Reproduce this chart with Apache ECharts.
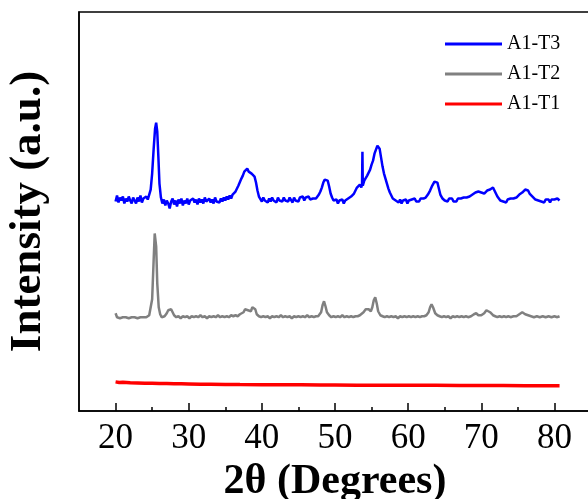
<!DOCTYPE html>
<html>
<head>
<meta charset="utf-8">
<script src="https://cdn.jsdelivr.net/npm/echarts@6/dist/echarts.min.js"></script>
<style>
  html, body { margin: 0; padding: 0; background: #fff; }
  #chart { width: 588px; height: 499px; }
</style>
</head>
<body>
<div id="chart"></div>
<script>
// XRD patterns, intensity in arbitrary units (offset stacked)
var seriesNames = ['A1-T3', 'A1-T2', 'A1-T1'];
var majorTicks = [20, 30, 40, 50, 60, 70, 80];
var minorTicks = [25, 35, 45, 55, 65, 75];

var t3 = [
  [20.0,210],[20.2,216],[20.4,209],[20.6,214],[20.8,211],[21.0,215],[21.2,208],[21.4,213],[21.6,210],[21.8,215],
  [22.0,211],[22.2,208],[22.4,214],[22.6,212],[22.8,208],[23.0,214],[23.2,210],[23.4,216],[23.6,209],[23.8,213],
  [24.0,211],[24.2,215],[24.4,212],[24.6,217],[24.8,222],[25.0,238],[25.2,262],[25.4,283],[25.55,289],[25.7,280],
  [25.85,255],[26.0,228],[26.2,214],[26.4,208],[26.6,212],[26.8,206],[27.0,211],[27.2,208],[27.4,203],[27.6,210],
  [27.8,213],[28.0,207],[28.2,211],[28.4,205],[28.6,212],[28.8,208],[29.0,213],[29.2,206],[29.4,211],[29.6,208],
  [29.8,213],[30.0,207],[30.2,211],[30.4,209],[30.6,213],[30.8,209],[31.0,212],[31.2,207],[31.4,213],[31.6,209],
  [31.8,212],[32.0,208],[32.2,214],[32.4,210],[32.6,208],[32.8,213],[33.0,209],[33.2,212],[33.4,208],[33.6,214],
  [33.8,210],[34.0,212],[34.2,209],[34.4,213],[34.6,210],[34.8,214],[35.0,211],[35.2,215],[35.4,212],[35.6,216],
  [35.8,213],[36.0,217],[36.2,216],[36.4,220],[36.6,221],[36.8,226],[37.0,228],[37.2,233],[37.4,236],[37.6,240],
  [37.8,241],[38.0,243],[38.2,240],[38.4,242],[38.6,238],[38.8,240],[39.0,235],[39.2,229],[39.4,221],[39.6,215],
  [39.8,213],[40.0,210],[40.2,214],[40.4,211],[40.6,213],[40.8,209],[41.0,213],[41.2,210],[41.4,214],[41.6,211],
  [41.8,213],[42.0,209],[42.2,214],[42.4,211],[42.6,213],[42.8,210],[43.0,214],[43.2,211],[43.4,213],[43.6,210],
  [43.8,214],[44.0,212],[44.2,209],[44.4,214],[44.6,211],[44.8,213],[45.0,210],[45.2,214],[45.4,212],[45.6,215],
  [45.8,211],[46.0,214],[46.2,212],[46.4,215],[46.6,212],[46.8,214],[47.0,213],[47.2,215],[47.4,213],[47.6,215],
  [47.8,217],[48.0,220],[48.2,224],[48.4,229],[48.6,232],[48.8,234],[49.0,231],[49.2,225],[49.4,218],[49.6,214],
  [49.8,211],[50.0,209],[50.2,212],[50.4,208],[50.6,211],[50.8,209],[51.0,212],[51.2,208],[51.4,211],[51.6,210],
  [51.8,213],[52.0,212],[52.2,215],[52.4,214],[52.6,218],[52.8,220],[53.0,224],[53.2,222],[53.4,227],[53.6,224],
  [53.7,228],[53.75,260],[53.8,226],[54.0,231],[54.2,229],[54.4,236],[54.6,238],[54.8,242],[55.0,247],[55.2,251],
  [55.4,258],[55.6,262],[55.8,266],[55.95,267],[56.1,263],[56.3,254],[56.5,245],[56.7,238],[56.9,233],[57.1,228],
  [57.3,223],[57.5,219],[57.7,217],[57.9,213],[58.1,214],[58.3,211],[58.5,212],[58.7,209],[58.9,212],[59.1,208],
  [59.3,211],[59.5,209],[59.7,212],[59.9,208],[60.1,211],[60.3,209],[60.5,212],[60.7,210],[60.9,213],[61.1,210],
  [61.3,212],[61.5,210],[61.7,213],[61.9,211],[62.1,213],[62.4,214],[62.7,217],[63.0,221],[63.3,226],[63.6,230],
  [63.8,231],[64.0,229],[64.2,223],[64.4,217],[64.7,213],[65.0,211],[65.2,213],[65.4,210],[65.6,213],[65.8,211],
  [66.0,213],[66.2,210],[66.4,212],[66.6,210],[66.8,213],[67.0,211],[67.2,213],[67.4,211],[67.6,214],[67.8,212],
  [68.0,214],[68.2,213],[68.4,215],[68.6,214],[68.8,217],[69.0,216],[69.2,219],[69.4,218],[69.6,220],[69.8,221],
  [70.0,219],[70.2,220],[70.4,218],[70.6,220],[70.8,221],[71.0,220],[71.2,222],[71.4,222],[71.6,224],[71.8,221],
  [72.0,218],[72.2,215],[72.4,214],[72.6,211],[72.8,213],[73.0,210],[73.2,212],[73.4,209],[73.6,212],[73.8,210],
  [74.0,213],[74.2,211],[74.4,213],[74.6,212],[74.8,214],[75.0,215],[75.2,217],[75.4,216],[75.6,219],[75.8,220],
  [76.0,222],[76.2,220],[76.4,221],[76.6,218],[76.8,217],[77.0,215],[77.2,214],[77.4,212],[77.6,214],[77.8,211],
  [78.0,213],[78.2,210],[78.4,212],[78.6,209],[78.8,212],[79.0,210],[79.2,212],[79.4,209],[79.6,212],[79.8,210],
  [80.0,212],[80.2,210],[80.4,213],[80.7,211]
];

var t2 = [
  [20.0,98],[20.2,94],[20.4,95],[20.6,93],[20.8,95],[21.0,94],[21.2,96],[21.4,94],[21.6,95],[21.8,93],
  [22.0,95],[22.2,94],[22.4,96],[22.6,94],[22.8,95],[23.0,93],[23.2,95],[23.4,94],[23.6,96],[23.8,94],
  [24.0,95],[24.2,94],[24.4,95],[24.6,96],[24.8,98],[25.0,112],[25.2,150],[25.35,178],[25.45,180],[25.55,165],
  [25.7,128],[25.9,104],[26.1,97],[26.3,94],[26.5,93],[26.7,95],[27.0,98],[27.2,101],[27.4,103],[27.6,102],
  [27.8,99],[28.0,96],[28.3,94],[28.6,95],[28.9,93],[29.2,95],[29.5,94],[29.8,95],[30.1,93],[30.4,95],
  [30.7,94],[31.0,95],[31.3,94],[31.6,96],[31.9,94],[32.2,95],[32.5,93],[32.8,95],[33.1,94],[33.4,95],
  [33.7,94],[34.0,96],[34.3,94],[34.6,95],[34.9,94],[35.2,95],[35.5,94],[35.8,96],[36.1,95],[36.4,96],
  [36.7,95],[37.0,97],[37.2,96],[37.5,99],[37.7,102],[37.9,104],[38.1,101],[38.3,99],[38.5,100],[38.7,104],
  [38.9,105],[39.1,102],[39.3,97],[39.6,95],[39.9,94],[40.2,95],[40.5,94],[40.8,95],[41.1,93],[41.4,95],
  [41.7,94],[42.0,95],[42.3,94],[42.6,96],[42.9,94],[43.2,95],[43.5,94],[43.8,95],[44.1,93],[44.4,95],
  [44.7,94],[45.0,95],[45.3,94],[45.6,95],[45.9,94],[46.2,96],[46.5,94],[46.8,95],[47.1,94],[47.4,95],
  [47.7,95],[47.9,96],[48.1,99],[48.3,106],[48.5,110],[48.7,105],[48.9,99],[49.2,96],[49.5,94],[49.8,95],
  [50.1,94],[50.4,95],[50.7,94],[51.0,96],[51.3,94],[51.6,95],[51.9,94],[52.2,95],[52.5,94],[52.8,95],
  [53.1,95],[53.4,96],[53.6,96],[53.9,99],[54.2,102],[54.4,104],[54.6,102],[54.9,100],[55.1,104],[55.3,111],
  [55.5,114],[55.7,108],[55.9,100],[56.2,96],[56.5,95],[56.8,94],[57.1,95],[57.4,94],[57.7,95],[58.0,94],
  [58.3,95],[58.6,93],[58.9,95],[59.2,94],[59.5,95],[59.8,94],[60.1,95],[60.4,94],[60.7,95],[61.0,94],
  [61.3,95],[61.6,94],[61.9,95],[62.2,95],[62.5,96],[62.8,99],[63.0,104],[63.2,107],[63.4,104],[63.7,98],
  [64.0,96],[64.3,95],[64.6,94],[64.9,95],[65.2,94],[65.5,95],[65.8,93],[66.1,95],[66.4,94],[66.7,95],
  [67.0,94],[67.3,95],[67.6,94],[67.9,95],[68.2,94],[68.6,95],[69.0,97],[69.3,98],[69.6,96],[70.0,96],
  [70.4,98],[70.7,101],[70.9,102],[71.2,99],[71.6,96],[71.9,95],[72.2,94],[72.5,95],[72.8,94],[73.1,95],
  [73.4,94],[73.7,95],[74.0,94],[74.4,95],[74.8,95],[75.2,97],[75.6,99],[76.0,97],[76.4,96],[76.8,95],
  [77.2,94],[77.6,95],[78.0,94],[78.4,95],[78.8,94],[79.2,95],[79.6,94],[80.0,95],[80.4,94],[80.7,95]
];

var t1 = [
  [20.0,29.2],[20.5,28.6],[21,28.9],[22,28.3],[23,28.1],[24,27.9],[25,27.8],[26,27.5],[27,27.6],[28,27.3],
  [29,27.2],[30,27.1],[31.6,26.9],[33,26.8],[35,26.6],[37,26.5],[40,26.4],[43,26.2],[45.4,26.3],[48,26.0],
  [50,26.1],[53,25.9],[56,25.9],[60,25.7],[63.8,25.7],[67,25.6],[70,25.5],[73,25.5],[76,25.4],[78,25.4],
  [80.7,25.3]
];

var chart = echarts.init(document.getElementById('chart'));
var serif = 'Liberation Serif, Times New Roman, serif';

var option = {
  animation: false,
  grid: {
    left: 79, right: -3, top: 12, bottom: 88,
    outerBoundsMode: 'none',
    containLabel: false,
    show: true,
    borderColor: '#000',
    borderWidth: 1.5
  },
  legend: {
    data: seriesNames,
    orient: 'vertical',
    left: 440,
    top: 29,
    itemWidth: 57,
    itemHeight: 3,
    itemGap: 10,
    icon: 'rect',
    textStyle: { fontFamily: serif, fontSize: 20, color: '#000', lineHeight: 20 }
  },
  xAxis: [{
    type: 'value',
    min: 15,
    max: 85,
    name: '2\u03b8 (Degrees)',
    nameLocation: 'middle',
    nameGap: 46,
    nameTextStyle: { fontFamily: serif, fontSize: 42, fontWeight: 'bold', color: '#000' },
    axisLine: { lineStyle: { color: '#000', width: 1.5 } },
    axisTick: { inside: true, length: 8, lineStyle: { color: '#000', width: 1.5 }, customValues: majorTicks },
    axisLabel: { customValues: majorTicks, margin: 10, fontFamily: serif, fontSize: 35, color: '#000' },
    splitLine: { show: false }
  }, {
    type: 'value',
    min: 15,
    max: 85,
    position: 'bottom',
    axisLine: { show: false },
    axisTick: { inside: true, length: 4, lineStyle: { color: '#000', width: 1.5 }, customValues: minorTicks },
    axisLabel: { show: false },
    splitLine: { show: false }
  }],
  yAxis: {
    type: 'value',
    min: 0,
    max: 400,
    name: 'Intensity (a.u.)',
    nameLocation: 'middle',
    nameGap: 28,
    nameTextStyle: { fontFamily: serif, fontSize: 45, fontWeight: 'bold', color: '#000' },
    axisLine: { show: true, lineStyle: { color: '#000', width: 1.5 } },
    axisTick: { show: false },
    axisLabel: { show: false },
    splitLine: { show: false }
  },
  series: [
    { name: 'A1-T3', type: 'line', data: t3, symbol: 'none', color: '#0000ff', lineStyle: { width: 2.5 } },
    { name: 'A1-T2', type: 'line', data: t2, symbol: 'none', color: '#808080', lineStyle: { width: 2.5 } },
    { name: 'A1-T1', type: 'line', data: t1, symbol: 'none', color: '#ff0000', lineStyle: { width: 3.5 } }
  ]
};

chart.setOption(option);
</script>
</body>
</html>
